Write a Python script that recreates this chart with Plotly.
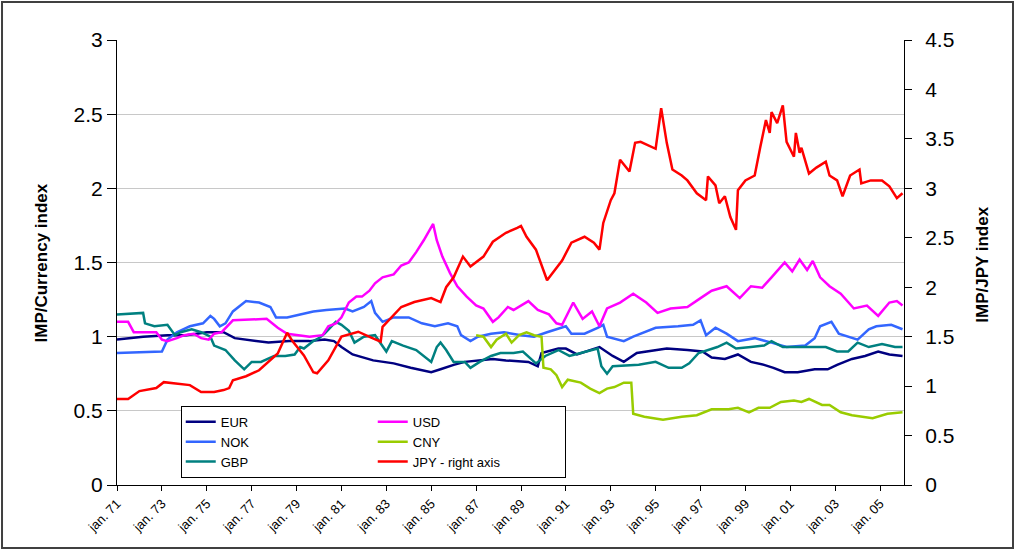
import plotly.graph_objects as go

# currency index series (left axis), JPY on right axis
eur_dates = ["1971-01", "1972-03", "1973-04", "1974-02", "1975-01", "1975-10", "1976-04", "1976-11",
             "1977-10", "1978-09", "1979-08", "1980-04", "1980-09", "1981-01", "1981-07", "1982-06",
             "1983-05", "1984-02", "1985-01", "1985-06", "1986-01", "1986-07", "1987-03", "1987-10",
             "1988-05", "1989-01", "1989-05", "1989-10", "1989-12", "1990-09", "1991-01", "1991-07",
             "1992-07", "1993-02", "1993-08", "1994-03", "1994-09", "1995-07", "1996-06", "1997-02",
             "1997-07", "1998-02", "1998-09", "1999-04", "1999-11", "2000-04", "2000-10", "2001-05",
             "2002-02", "2002-09", "2003-02", "2003-10", "2004-05", "2004-12", "2005-06", "2006-01"]
eur = [0.98, 1.00, 1.01, 1.01, 1.03, 1.03, 0.99, 0.98,
       0.96, 0.97, 0.97, 0.98, 0.97, 0.93, 0.88, 0.84,
       0.82, 0.79, 0.76, 0.78, 0.81, 0.83, 0.84, 0.85,
       0.84, 0.83, 0.83, 0.80, 0.89, 0.92, 0.92, 0.88,
       0.93, 0.87, 0.83, 0.89, 0.90, 0.92, 0.91, 0.90,
       0.86, 0.85, 0.88, 0.83, 0.81, 0.79, 0.76, 0.76,
       0.78, 0.78, 0.81, 0.85, 0.87, 0.90, 0.88, 0.87]

usd_dates = ["1971-01", "1971-07", "1971-10", "1972-10", "1973-01", "1973-04", "1973-09", "1974-01",
             "1974-06", "1974-10", "1975-02", "1975-05", "1975-09", "1976-03", "1977-09", "1977-12",
             "1978-03", "1978-08", "1979-08", "1980-03", "1980-06", "1980-10", "1981-01", "1981-05",
             "1981-09", "1981-12", "1982-04", "1982-07", "1982-11", "1983-05", "1983-09", "1984-01",
             "1984-05", "1984-09", "1985-02", "1985-04", "1985-07", "1985-11", "1986-03", "1986-08",
             "1987-01", "1987-05", "1987-10", "1988-01", "1988-06", "1988-09", "1989-05", "1989-10",
             "1990-04", "1990-08", "1990-11", "1991-03", "1991-05", "1991-10", "1992-03", "1992-07",
             "1992-11", "1993-06", "1994-01", "1994-08", "1995-02", "1995-09", "1996-06", "1997-01",
             "1997-07", "1998-03", "1998-10", "1999-04", "1999-10", "2000-03", "2000-10", "2001-02",
             "2001-06", "2001-10", "2002-01", "2002-05", "2002-10", "2003-04", "2003-11", "2004-06",
             "2004-12", "2005-06", "2005-10", "2006-01"]
usd = [1.10, 1.10, 1.03, 1.03, 0.98, 0.97, 0.99, 1.01,
       1.02, 0.99, 0.98, 1.02, 1.03, 1.11, 1.12, 1.09,
       1.06, 1.02, 1.00, 1.01, 1.07, 1.09, 1.13, 1.23,
       1.27, 1.27, 1.31, 1.36, 1.40, 1.42, 1.48, 1.50,
       1.57, 1.65, 1.76, 1.65, 1.54, 1.43, 1.34, 1.27,
       1.21, 1.19, 1.10, 1.13, 1.20, 1.18, 1.24, 1.18,
       1.15, 1.09, 1.08, 1.18, 1.23, 1.12, 1.17, 1.07,
       1.19, 1.23, 1.29, 1.23, 1.16, 1.19, 1.20, 1.26,
       1.31, 1.34, 1.26, 1.34, 1.33, 1.40, 1.50, 1.44,
       1.52, 1.45, 1.51, 1.40, 1.34, 1.29, 1.19, 1.21,
       1.14, 1.23, 1.24, 1.21]

nok_dates = ["1971-01", "1972-10", "1973-01", "1973-04", "1973-09", "1974-04", "1974-11", "1975-03",
             "1975-05", "1975-08", "1975-11", "1976-03", "1976-10", "1977-05", "1977-11", "1978-02",
             "1978-08", "1979-03", "1979-10", "1980-05", "1981-03", "1981-07", "1982-01", "1982-05",
             "1982-07", "1982-11", "1983-05", "1984-01", "1984-08", "1985-03", "1985-10", "1986-03",
             "1986-05", "1986-10", "1987-02", "1987-09", "1988-04", "1989-01", "1989-08", "1990-03",
             "1990-11", "1991-01", "1991-04", "1991-11", "1992-06", "1992-09", "1992-11", "1993-08",
             "1994-01", "1995-01", "1996-01", "1996-09", "1997-01", "1997-04", "1997-09", "1998-03",
             "1998-09", "1999-06", "2000-03", "2000-11", "2001-09", "2002-02", "2002-05", "2002-11",
             "2003-03", "2003-08", "2004-01", "2004-07", "2004-11", "2005-07", "2006-01"]
nok = [0.89, 0.90, 0.90, 0.98, 1.03, 1.07, 1.09, 1.14,
       1.12, 1.07, 1.09, 1.17, 1.24, 1.23, 1.20, 1.13,
       1.13, 1.15, 1.17, 1.18, 1.19, 1.17, 1.20, 1.24,
       1.16, 1.10, 1.13, 1.13, 1.09, 1.07, 1.09, 1.07,
       1.01, 0.97, 1.00, 1.02, 1.03, 1.01, 1.00, 1.03,
       1.06, 1.07, 1.02, 1.02, 1.06, 1.08, 1.00, 0.97,
       1.00, 1.06, 1.07, 1.08, 1.11, 1.01, 1.06, 1.02,
       0.97, 0.99, 0.96, 0.93, 0.94, 0.99, 1.07, 1.10,
       1.02, 1.00, 0.98, 1.05, 1.07, 1.08, 1.05]

cny_dates = ["1987-01", "1987-05", "1987-09", "1987-12", "1988-05", "1988-08", "1988-12", "1989-04",
             "1989-08", "1989-12", "1990-01", "1990-05", "1990-08", "1990-11", "1991-02", "1991-06",
             "1991-09", "1992-02", "1992-07", "1992-11", "1993-03", "1993-08", "1993-12", "1994-01",
             "1994-07", "1995-05", "1996-03", "1996-11", "1997-07", "1998-04", "1998-09", "1999-03",
             "1999-08", "2000-02", "2000-08", "2001-03", "2001-07", "2001-11", "2002-06", "2002-10",
             "2003-04", "2003-10", "2004-09", "2005-05", "2006-01"]
cny = [1.01, 1.00, 0.93, 0.98, 1.02, 0.96, 1.01, 1.03,
       1.01, 1.00, 0.79, 0.78, 0.74, 0.66, 0.71, 0.70,
       0.69, 0.65, 0.62, 0.65, 0.66, 0.69, 0.69, 0.48,
       0.46, 0.44, 0.46, 0.47, 0.51, 0.51, 0.52, 0.49,
       0.52, 0.52, 0.56, 0.57, 0.56, 0.58, 0.54, 0.54,
       0.49, 0.47, 0.45, 0.48, 0.49]

gbp_dates = ["1971-01", "1972-03", "1972-04", "1972-09", "1973-04", "1973-08", "1973-11", "1974-05",
             "1974-10", "1975-03", "1975-05", "1975-11", "1976-04", "1976-09", "1977-01", "1977-06",
             "1978-01", "1978-07", "1978-12", "1979-03", "1979-05", "1979-10", "1980-01", "1980-04",
             "1980-10", "1981-01", "1981-05", "1981-08", "1982-01", "1982-07", "1983-01", "1983-04",
             "1983-10", "1984-05", "1985-01", "1985-04", "1985-06", "1985-09", "1986-01", "1986-07",
             "1986-10", "1987-03", "1987-09", "1988-02", "1988-09", "1989-02", "1989-09", "1990-02",
             "1990-09", "1991-03", "1991-09", "1992-06", "1992-08", "1992-11", "1993-02", "1994-04",
             "1995-01", "1995-08", "1996-03", "1996-07", "1996-12", "1997-07", "1997-10", "1998-03",
             "1998-08", "1999-04", "1999-11", "2000-03", "2000-09", "2001-09", "2002-08", "2003-02",
             "2003-08", "2004-01", "2004-07", "2005-02", "2005-09", "2006-01"]
gbp = [1.15, 1.16, 1.09, 1.07, 1.08, 1.01, 1.03, 1.05,
       1.03, 1.00, 0.94, 0.91, 0.84, 0.78, 0.83, 0.83,
       0.87, 0.87, 0.88, 0.93, 0.92, 0.97, 0.99, 1.02,
       1.10, 1.08, 1.04, 0.96, 1.00, 1.01, 0.90, 0.97,
       0.94, 0.91, 0.83, 0.93, 0.96, 0.91, 0.83, 0.83,
       0.79, 0.83, 0.87, 0.89, 0.89, 0.90, 0.82, 0.87,
       0.91, 0.87, 0.89, 0.92, 0.80, 0.75, 0.80, 0.81,
       0.83, 0.79, 0.79, 0.82, 0.89, 0.92, 0.93, 0.96,
       0.92, 0.93, 0.94, 0.97, 0.93, 0.93, 0.93, 0.90,
       0.90, 0.96, 0.93, 0.95, 0.93, 0.93]

jpy_dates = ["1971-01", "1971-07", "1972-01", "1972-10", "1973-02", "1974-04", "1974-10", "1975-05",
             "1975-10", "1976-01", "1976-03", "1976-10", "1977-05", "1977-11", "1978-03", "1978-08",
             "1978-11", "1979-05", "1979-10", "1979-12", "1980-06", "1981-01", "1981-10", "1982-05",
             "1982-10", "1982-11", "1983-04", "1983-09", "1984-04", "1985-01", "1985-06", "1985-09",
             "1986-01", "1986-06", "1986-10", "1987-02", "1987-05", "1987-10", "1988-05", "1988-11",
             "1989-01", "1989-04", "1989-09", "1990-03", "1990-05", "1990-11", "1991-04", "1991-11",
             "1992-04", "1992-07", "1992-09", "1993-01", "1993-03", "1993-06", "1993-11", "1994-02",
             "1994-05", "1995-01", "1995-04", "1995-07", "1995-10", "1996-03", "1996-06", "1996-11",
             "1997-04", "1997-05", "1997-09", "1997-11", "1998-02", "1998-05", "1998-08", "1998-09",
             "1999-01", "1999-06", "1999-09", "1999-12", "2000-02", "2000-03", "2000-06", "2000-09",
             "2000-11", "2001-03", "2001-04", "2001-06", "2001-07", "2001-11", "2002-03", "2002-08",
             "2002-10", "2003-02", "2003-05", "2003-09", "2004-02", "2004-03", "2004-08", "2005-02",
             "2005-06", "2005-10", "2006-01"]
jpy = [0.87, 0.87, 0.95, 0.98, 1.04, 1.01, 0.94, 0.94,
       0.96, 0.98, 1.06, 1.10, 1.16, 1.26, 1.33, 1.54,
       1.45, 1.31, 1.14, 1.13, 1.26, 1.50, 1.55, 1.49,
       1.45, 1.60, 1.70, 1.80, 1.85, 1.89, 1.85, 2.00,
       2.10, 2.31, 2.21, 2.27, 2.31, 2.46, 2.55, 2.60,
       2.62, 2.51, 2.38, 2.07, 2.12, 2.27, 2.45, 2.51,
       2.45, 2.38, 2.65, 2.88, 2.95, 3.29, 3.17, 3.46,
       3.47, 3.40, 3.81, 3.46, 3.19, 3.13, 3.08, 2.95,
       2.88, 3.12, 3.03, 2.85, 2.92, 2.71, 2.58, 2.98,
       3.08, 3.13, 3.42, 3.69, 3.56, 3.77, 3.66, 3.84,
       3.47, 3.32, 3.56, 3.36, 3.41, 3.15, 3.21, 3.27,
       3.13, 3.08, 2.92, 3.13, 3.19, 3.05, 3.08, 3.08,
       3.02, 2.90, 2.95]

tick_years = list(range(1971, 2006, 2))
tick_vals = [f"{y}-01-01" for y in tick_years]
tick_text = [f"jan. {y % 100:02d}" for y in tick_years]

FONT = "Liberation Sans, Arial, sans-serif"

fig = go.Figure()
# two legend columns: group "a" on the left, group "b" on the right
series = [
    ("EUR", eur_dates, eur, "#000080", "a", "y"),
    ("NOK", nok_dates, nok, "#3366FF", "a", "y"),
    ("GBP", gbp_dates, gbp, "#008080", "a", "y"),
    ("USD", usd_dates, usd, "#FF00FF", "b", "y"),
    ("CNY", cny_dates, cny, "#99CC00", "b", "y"),
    ("JPY - right axis", jpy_dates, jpy, "#FF0000", "b", "y2"),
]
for name, xs, ys, col, grp, ax in series:
    fig.add_trace(go.Scatter(x=xs, y=ys, name=name, mode="lines", legendgroup=grp,
                             line=dict(color=col, width=2.5), yaxis=ax))

fig.update_layout(
    width=1017, height=551,
    margin=dict(l=117, r=113, t=40, b=66),
    paper_bgcolor="white", plot_bgcolor="white",
    font=dict(family=FONT, color="black"),
    showlegend=True,
    legend=dict(
        orientation="h", x=0.081, y=0.178, xanchor="left", yanchor="top",
        traceorder="grouped", entrywidth=147, entrywidthmode="pixels",
        font=dict(size=13, family=FONT),
        bgcolor="white", bordercolor="black", borderwidth=1,
    ),
    xaxis=dict(
        type="date", range=["1971-01-01", "2006-01-25"],
        tickmode="array", tickvals=tick_vals, ticktext=tick_text,
        tickangle=-45, tickfont=dict(size=13),
        ticks="outside", ticklen=5, tickcolor="black",
        showline=True, linecolor="black", linewidth=1,
        showgrid=False, zeroline=False,
    ),
    yaxis=dict(
        range=[0, 3], dtick=0.5,
        tickfont=dict(size=21),
        ticks="outside", ticklen=9, tickcolor="black",
        showline=True, linecolor="black", linewidth=1,
        showgrid=True, gridcolor="#C8C8C8", gridwidth=1, zeroline=False,
    ),
    yaxis2=dict(
        range=[0, 4.5], dtick=0.5, overlaying="y", side="right", anchor="x",
        tickfont=dict(size=21),
        ticks="outside", ticklen=7, tickcolor="black", ticklabelstandoff=9,
        showline=True, linecolor="black", linewidth=1,
        showgrid=False, zeroline=False,
    ),
    yaxis3=dict(
        range=[0, 4.5], dtick=0.5, overlaying="y", side="right", anchor="x",
        ticks="inside", ticklen=7, tickcolor="black",
        showticklabels=False, showline=False, showgrid=False, zeroline=False,
    ),
)

# axis titles placed as rotated annotations
fig.add_annotation(text="<b>IMP/Currency index</b>", xref="paper", yref="paper",
                   x=-0.0953, y=0.5, xanchor="center", yanchor="middle",
                   textangle=-90, showarrow=False, font=dict(size=17))
fig.add_annotation(text="<b>IMP/JPY index</b>", xref="paper", yref="paper",
                   x=1.1004, y=0.495, xanchor="center", yanchor="middle",
                   textangle=-90, showarrow=False, font=dict(size=17))

# chart frame around the whole picture
fig.add_shape(type="rect", xref="paper", yref="paper",
              x0=-0.1461, x1=1.1385, y0=-0.1416, y1=1.0854,
              line=dict(color="#404040", width=2), fillcolor="rgba(0,0,0,0)")

fig.write_html("out.html", config={"displayModeBar": False},
               post_script="document.body.style.margin='0';document.body.style.overflow='hidden';")
